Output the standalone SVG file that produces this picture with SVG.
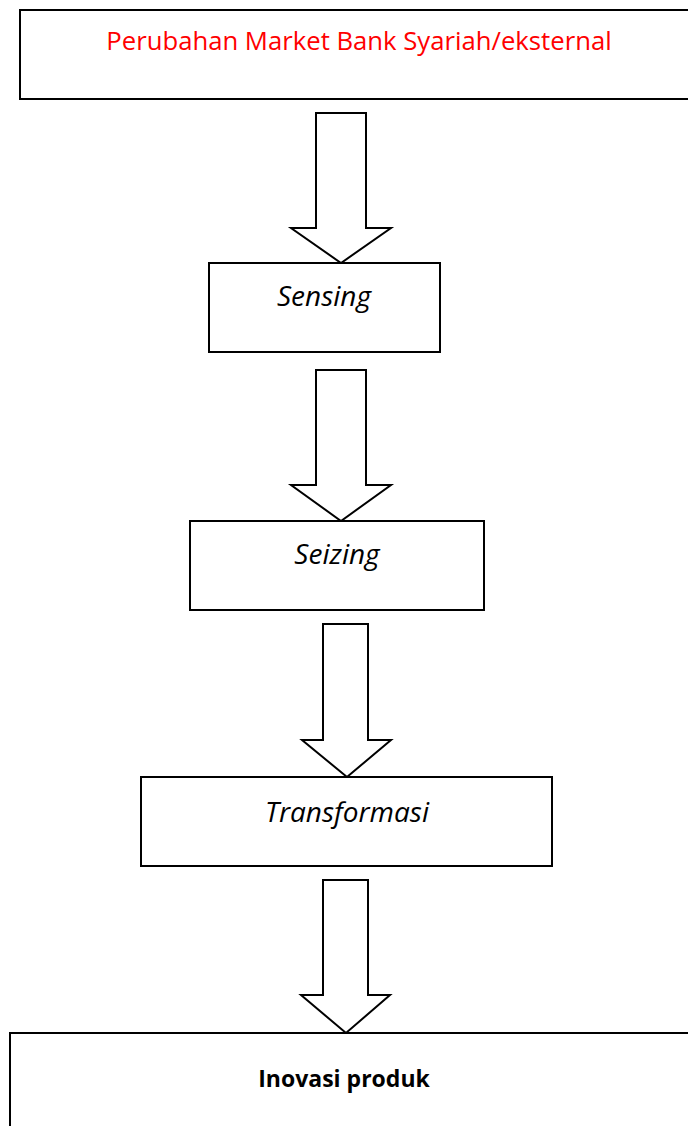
<svg xmlns="http://www.w3.org/2000/svg" width="688" height="1126" viewBox="0 0 688 1126">
<style>
.box{fill:#fff;stroke:#000;stroke-width:2}
.arr{fill:#fff;stroke:#000;stroke-width:2;stroke-linejoin:miter}
.t{font-family:"Open Sans","Noto Sans",sans-serif;text-anchor:middle}
.it{font-style:italic;font-size:28px;fill:#000}
</style>
<rect width="688" height="1126" fill="#fff"/>
<g id="connectors">
<path class="arr" d="M316,113 H366 V228 H391 L341,263 L291,228 H316 Z"/>
<path class="arr" d="M316,370 H366 V485 H391 L341,521 L291,485 H316 Z"/>
<path class="arr" d="M323,624 H368 V740 H391 L347,777 L302,740 H323 Z"/>
<path class="arr" d="M323,880 H368 V995 H390 L346,1033 L301,995 H323 Z"/>
</g>
<g id="n-market">
<rect class="box" x="20" y="10" width="680" height="89"/>
<text class="t" x="359" y="50" font-size="25.7" fill="#ff0000">Perubahan Market Bank Syariah/eksternal</text>
</g>
<g id="n-sensing">
<rect class="box" x="209" y="263" width="231" height="89"/>
<text class="t it" x="324" y="306">Sensing</text>
</g>
<g id="n-seizing">
<rect class="box" x="190" y="521" width="294" height="89"/>
<text class="t it" x="337" y="564">Seizing</text>
</g>
<g id="n-transformasi">
<rect class="box" x="141" y="777" width="411" height="89"/>
<text class="t it" x="347" y="822">Transformasi</text>
</g>
<g id="n-inovasi">
<rect class="box" x="10" y="1033" width="690" height="100"/>
<text class="t" x="344" y="1087" font-size="23" font-weight="bold" fill="#000">Inovasi produk</text>
</g>
</svg>
